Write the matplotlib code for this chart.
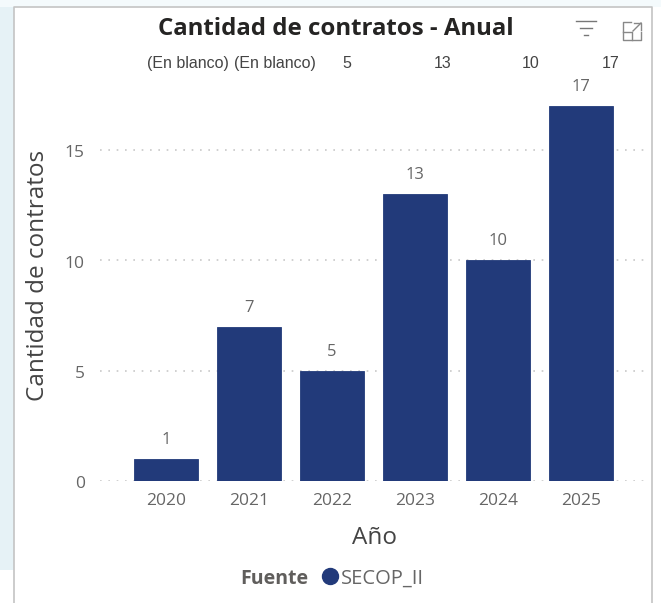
import matplotlib
matplotlib.use("Agg")
import matplotlib.pyplot as plt
from matplotlib.patches import Rectangle
from matplotlib.lines import Line2D
from matplotlib.transforms import ScaledTranslation

years = ["2020", "2021", "2022", "2023", "2024", "2025"]
counts = [1, 7, 5, 13, 10, 17]
top_labels = ["(En blanco)", "(En blanco)", "5", "13", "10", "17"]
y_ticks = [0, 5, 10, 15]
title = "Cantidad de contratos - Anual"
x_title = "Año"
y_title = "Cantidad de contratos"
legend_title = "Fuente"
legend_item = "SECOP_II"

BAR = "#223a7a"
W, H = 661, 603
FONT = "Open Sans"
fig = plt.figure(figsize=(W / 100, H / 100), dpi=100, facecolor="white")

def fx(p): return p / W
def fy(p): return 1 - p / H

# page background and card
fig.add_artist(Rectangle((0, fy(570)), fx(14), 570 / H, transform=fig.transFigure, fc="#e6f2f6", ec="none"))
fig.add_artist(Rectangle((0, fy(7)), 1, 7 / H, transform=fig.transFigure, fc="#f4fafc", ec="none"))
fig.add_artist(Line2D([fx(14), fx(14), fx(652), fx(652)], [fy(603), fy(7), fy(7), fy(603)],
                      transform=fig.transFigure, color="#c4c4c4", lw=1.2))

SCALE = 22.07
ax = fig.add_axes([fx(100), fy(481), fx(545), 381 / H])
ax.set_facecolor("none")
ax.bar(range(len(years)), counts, width=0.77, color=BAR, edgecolor=BAR, lw=0.6, zorder=3)
ax.set_xlim(-0.795, 5.77)
ax.set_ylim(0, 381 / SCALE)
ax.set_xticks(range(len(years)), years)
ax.set_yticks(y_ticks)
ax.tick_params(length=0, labelsize=12.5, labelcolor="#666666")
ax.tick_params(axis="x", pad=8.5)
ax.tick_params(axis="y", pad=11)
shift = ScaledTranslation(0, -1.5 / 100, fig.dpi_scale_trans)
for t in ax.get_xticklabels() + ax.get_yticklabels():
    t.set_family(FONT)
for t in ax.get_yticklabels():
    t.set_transform(t.get_transform() + shift)
ax.grid(axis="y", color="#c8c8c8", lw=1.2, linestyle=(0, (1, 4)), zorder=0)
ax.set_axisbelow(True)
for s in ax.spines.values():
    s.set_visible(False)

for i, v in enumerate(counts):
    ax.text(i, v + 11 / SCALE, str(v), ha="center", va="bottom", fontsize=12, color="#666666",
            family=FONT, clip_on=False)

# row of labels above the plot
for i, lab in enumerate(top_labels):
    px = [188, 275, 347, 443, 531, 611][i]
    fig.text(fx(px), fy(63.5), lab, ha="center", va="center", fontsize=11.5, color="#444444",
             family="Liberation Sans")

fig.text(fx(336), fy(29), title, ha="center", va="center", fontsize=17.3, fontweight="bold",
         color="#252423", family=FONT)
fig.text(fx(374), fy(538), x_title, ha="center", va="center", fontsize=17.5, color="#444444", family=FONT)
fig.text(fx(38), fy(275), y_title, ha="center", va="center", rotation=90, fontsize=17.5,
         color="#444444", family=FONT)

fig.text(fx(274), fy(579), legend_title, ha="center", va="center", fontsize=14, fontweight="bold",
         color="#605e5c", family=FONT)
fig.add_artist(Line2D([fx(330)], [fy(576)], transform=fig.transFigure, marker="o", ms=11.5,
                      color=BAR, ls="none"))
fig.text(fx(341), fy(579), legend_item, ha="left", va="center", fontsize=14.5, color="#666666", family=FONT)

# header icons
for y0, x0, x1 in [(21, 576, 596), (28, 580, 592), (35, 584, 588)]:
    fig.add_artist(Line2D([fx(x0), fx(x1)], [fy(y0), fy(y0)], transform=fig.transFigure, color="#777777", lw=1))
for xs, ys in [([631, 623, 623, 641, 641], [22, 22, 40, 40, 32]),
               ([623, 632, 632], [32, 32, 40]),
               ([634, 641, 641], [23, 23, 30])]:
    fig.add_artist(Line2D([fx(v) for v in xs], [fy(v) for v in ys], transform=fig.transFigure, color="#888888", lw=1))
fig.add_artist(Line2D([fx(633), fx(641)], [fy(31), fy(23)], transform=fig.transFigure, color="#888888", lw=1))

fig.savefig("out.png", dpi=100, facecolor="white")
